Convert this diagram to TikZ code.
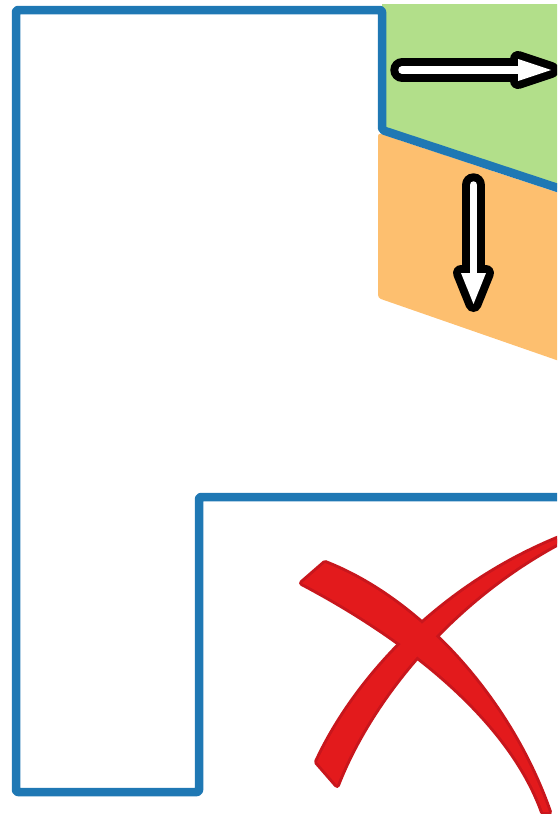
\documentclass[tikz,border=0pt]{standalone}
\definecolor{pgreen}{HTML}{B2DF8A}
\definecolor{porange}{HTML}{FDBF6F}
\definecolor{pblue}{HTML}{1F78B4}
\definecolor{pred}{HTML}{E31A1C}
\definecolor{pdred}{HTML}{C8161C}
\tikzset{
  wall/.style={draw=pblue, line width=8.5pt, line join=round, rounded corners=2pt},
  arrout/.style={black, line width=23.5pt, line cap=round},
  arrin/.style={white, line width=7.5pt, line cap=round},
  headout/.style={fill=black, draw=black, line width=16pt, line join=round},
  headin/.style={fill=white},
  xborder/.style={draw=pdred, line width=6pt, line join=round},
  xfill/.style={fill=pred}
}
\begin{document}
\begin{tikzpicture}[x=1pt,y=-1pt]
\useasboundingbox (0,0) rectangle (557,814);
\clip (0,0) rectangle (557,814);
% zones
\fill[pgreen] (382,4) -- (565,4) -- (565,191) -- (382,130) -- cycle;
\fill[porange, rounded corners=3pt] (378,133) -- (565,195) -- (565,363) -- (378,298) -- cycle;
% walls
\draw[wall] (570,192) -- (382,130) -- (382,10) -- (16,10) -- (16,792) -- (199,792) -- (199,497) -- (570,497);
% right arrow
\coordinate (ra1) at (402,70);
\coordinate (ra2) at (519,70);
\draw[arrout] (ra1) -- (ra2);
\path[headout] (518,59) -- (551,70) -- (518,81) -- cycle;
\draw[arrin] (ra1) -- (ra2);
\path[headin] (518,59) -- (551,70) -- (518,81) -- cycle;
% down arrow
\coordinate (da1) at (473.5,185);
\coordinate (da2) at (473.5,274);
\draw[arrout] (da1) -- (da2);
\path[headout] (461,273) -- (486,273) -- (473.5,304) -- cycle;
\draw[arrin] (da1) -- (da2);
\path[headin] (461,273) -- (486,273) -- (473.5,304) -- cycle;
% red cross
\def\strokeA{(302,583) -- (325,563) .. controls (420,600) and (510,700) .. (549,812) -- (543,812) .. controls (510,720) and (410,640) .. (302,583) -- cycle}
\def\strokeB{(317,762) .. controls (350,690) and (430,590) .. (562,537) -- (562,541) .. controls (450,600) and (370,700) .. (337,785) -- cycle}
\path[xborder] \strokeA;
\path[xborder] \strokeB;
\path[xfill] \strokeA;
\path[xfill] \strokeB;
\end{tikzpicture}
\end{document}
